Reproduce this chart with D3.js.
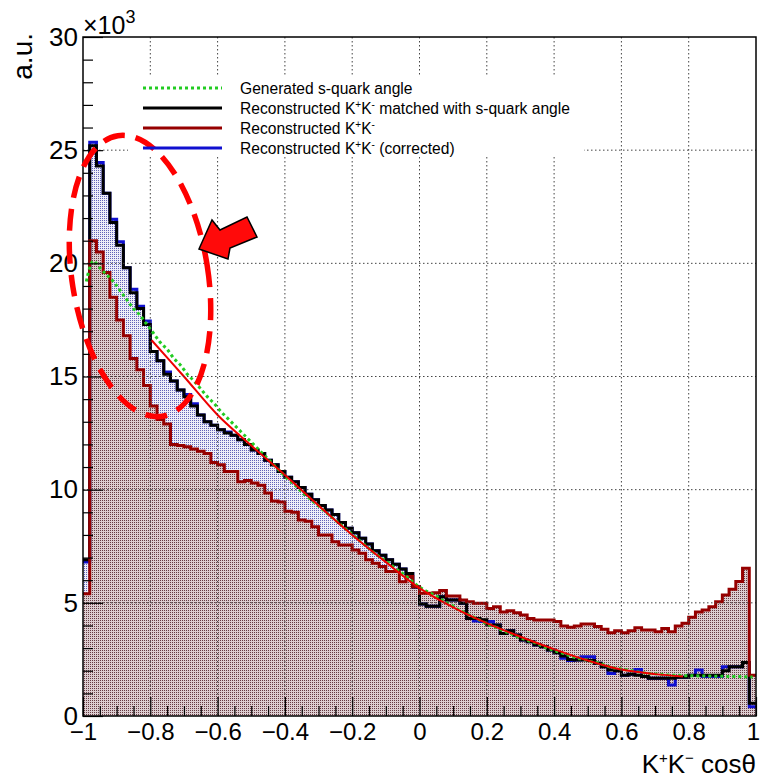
<!DOCTYPE html>
<html><head><meta charset="utf-8">
<script src="https://cdn.jsdelivr.net/npm/d3@7"></script>
<style>
html,body{margin:0;padding:0;background:#fff;}
svg{display:block;}
text{font-family:"Liberation Sans",Arial,Helvetica,sans-serif;}
</style></head>
<body>
<svg id="c" width="761" height="778"></svg>
<script>
// ---- data (values in units of 10^3) ----
const binLow = -1, binWidth = 0.02;
const generated = [19.2,20.1,19.8,19.5,19.2,18.8,18.4,18.0,17.7,17.3,
 16.9,16.5,16.2,15.8,15.5,15.1,14.8,14.45,14.1,13.8,
 13.45,13.15,12.85,12.55,12.25,11.95,11.65,11.35,11.05,10.75,
 10.45,10.2,9.9,9.65,9.4,9.15,8.9,8.65,8.4,8.15,
 7.9,7.65,7.4,7.15,6.95,6.75,6.5,6.3,6.05,5.8,
 5.6,5.45,5.3,5.1,4.95,4.75,4.6,4.45,4.3,4.15,
 4.0,3.9,3.75,3.65,3.5,3.4,3.3,3.2,3.05,2.95,
 2.85,2.75,2.65,2.55,2.5,2.4,2.35,2.25,2.15,2.1,
 2.05,2.0,1.95,1.9,1.87,1.85,1.83,1.8,1.8,1.78,
 1.78,1.77,1.77,1.76,1.76,1.75,1.75,1.74,1.73,1.72];
const matched = [6.9,25.2,24.3,23.1,21.8,20.8,19.8,18.7,18.0,17.3,
 16.1,15.7,15.1,14.8,14.4,14.1,13.7,13.3,13.0,12.85,
 12.65,12.5,12.4,12.2,12.0,11.75,11.6,11.3,11.1,10.8,
 10.55,10.35,10.1,9.8,9.55,9.3,9.1,8.9,8.55,8.3,
 8.1,7.85,7.6,7.3,7.1,6.9,6.7,6.5,6.3,5.7,
 4.95,4.85,4.85,5.27,5.13,5.13,4.98,4.31,4.31,4.25,
 4.02,4.02,3.65,3.77,3.58,3.36,3.28,3.14,3.06,2.92,
 2.8,2.65,2.5,2.47,2.47,2.45,2.33,2.18,2.03,2.0,
 1.8,1.85,1.8,1.74,1.67,1.67,1.67,1.67,1.71,1.71,
 1.8,1.8,1.8,1.8,1.8,2.0,2.18,2.18,2.36,0.56];
const reco = [5.4,21.0,20.5,19.6,18.5,17.5,16.8,15.8,15.3,14.6,
 13.7,13.1,12.9,12.0,11.95,11.9,11.8,11.7,11.6,11.2,
 11.1,10.8,10.8,10.35,10.4,10.3,10.2,9.85,9.5,9.45,
 9.05,9.0,8.66,8.6,8.36,8.0,8.0,7.7,7.56,7.56,
 7.33,7.19,6.9,6.75,6.6,6.38,6.38,5.93,6.16,5.71,
 5.42,5.42,5.45,5.54,5.3,5.3,5.13,5.05,4.98,4.98,
 4.75,4.83,4.6,4.65,4.56,4.46,4.31,4.24,4.24,4.24,
 4.17,3.98,3.92,3.98,4.07,4.07,3.95,3.83,3.68,3.77,
 3.68,3.77,3.9,3.8,3.8,3.72,3.87,3.72,3.98,4.1,
 4.36,4.6,4.68,4.83,5.05,5.35,5.6,5.94,6.53,1.8];
const corrected = [6.8,25.35,24.45,23.1,21.95,20.95,19.8,18.85,18.1,17.45,
 16.1,15.7,15.2,14.8,14.4,14.2,13.8,13.3,13.0,12.85,
 12.65,12.55,12.4,12.2,12.0,11.75,11.6,11.3,11.1,10.8,
 10.55,10.35,10.1,9.8,9.55,9.3,9.1,8.9,8.55,8.3,
 8.1,7.85,7.6,7.3,7.1,6.9,6.7,6.5,6.3,5.7,
 4.95,4.85,4.85,5.27,5.13,5.13,4.98,4.31,4.2,4.17,
 4.17,4.02,3.65,3.77,3.58,3.36,3.28,3.14,3.06,2.92,
 2.8,2.55,2.45,2.47,2.62,2.62,2.33,2.18,1.88,2.0,
 1.8,1.85,2.06,1.74,1.67,1.67,1.67,1.37,1.71,1.71,
 1.8,2.03,1.74,1.74,1.74,2.18,2.18,2.18,2.36,0.41];
const fitX = [-0.796,-0.7,-0.6,-0.5,-0.4,-0.3,-0.2,-0.1,0.0,0.1,0.2,0.3,0.4,0.5,0.6,0.7,0.783];
const fitY = [16.6,15.0,13.3,11.95,10.65,9.3,8.0,6.8,5.65,4.8,4.1,3.5,2.95,2.45,2.05,1.85,1.75];
const xTickMajor = [-1,-0.8,-0.6,-0.4,-0.2,0,0.2,0.4,0.6,0.8,1];
const yTickMajor = [0,5,10,15,20,25,30];
const legendLabels = ["Generated s-quark angle","matched with s-quark angle","",""," (corrected)"];

// ---- layout ----
const svg = d3.select("#c");
const L=83, T=37, R=756, B=716;
const x = d3.scaleLinear().domain([-1,1]).range([L,R]);
const y = d3.scaleLinear().domain([0,30]).range([B,T]);
const edges = d3.range(matched.length).map(i => binLow + i*binWidth);
const centers = edges.map(e => e + binWidth/2);

const defs = svg.append("defs");
defs.append("clipPath").attr("id","frame").append("rect")
  .attr("x",L).attr("y",T).attr("width",R-L).attr("height",B-T);
function pat(id,bg,dot){
  const p = defs.append("pattern").attr("id",id).attr("patternUnits","userSpaceOnUse")
    .attr("width",2).attr("height",2);
  p.append("rect").attr("width",2).attr("height",2).attr("fill",bg);
  p.append("rect").attr("width",1).attr("height",1).attr("fill",dot);
}
pat("redPat","#dccdd0","#663a42");
pat("bluePat","#eeeef8","#6262b8");

const g = svg.append("g").attr("clip-path","url(#frame)");

function stepPts(vals){
  const pts = vals.map((v,i)=>[edges[i],v]);
  pts.push([1, vals[vals.length-1]]);
  return pts;
}
const stepLine = d3.line().x(d=>x(d[0])).y(d=>y(d[1])).curve(d3.curveStepAfter);
const stepArea = d3.area().x(d=>x(d[0])).y0(y(0)).y1(d=>y(d[1])).curve(d3.curveStepAfter);

g.append("path").attr("d",stepArea(stepPts(corrected))).attr("fill","url(#bluePat)");
g.append("path").attr("d",stepArea(stepPts(reco))).attr("fill","url(#redPat)");

// grid
const grid = svg.append("g").attr("stroke","#444").attr("stroke-width",1).attr("stroke-dasharray","1.5,2.5");
xTickMajor.slice(1,-1).forEach(v=>grid.append("line").attr("x1",x(v)).attr("x2",x(v)).attr("y1",T).attr("y2",B));
yTickMajor.slice(1,-1).forEach(v=>grid.append("line").attr("x1",L).attr("x2",R).attr("y1",y(v)).attr("y2",y(v)));

// legend background
svg.append("rect").attr("x",128).attr("y",77).attr("width",456).attr("height",80).attr("fill","#fff");

// lines
g.append("path").attr("d",stepLine(stepPts(corrected))).attr("fill","none").attr("stroke","#1010d0").attr("stroke-width",3);
g.append("path").attr("d",stepLine(stepPts(matched))).attr("fill","none").attr("stroke","#000").attr("stroke-width",3);
g.append("path").attr("d",stepLine(stepPts(reco))).attr("fill","none").attr("stroke","#960000").attr("stroke-width",3);
const smooth = d3.line().x(d=>x(d[0])).y(d=>y(d[1])).curve(d3.curveCatmullRom);
g.append("path").attr("d",smooth(generated.map((v,i)=>[centers[i],v])))
  .attr("fill","none").attr("stroke","#22cc22").attr("stroke-width",3).attr("stroke-dasharray","3,3");
g.append("path").attr("d",smooth(fitX.map((v,i)=>[v,fitY[i]])))
  .attr("fill","none").attr("stroke","#ee0000").attr("stroke-width",2);

// axes
const font = '"Liberation Sans",Arial,sans-serif';
const yMinor = d3.range(0,31,1).filter(v=>v%5!==0);
const xMinor = d3.range(-1,1.0001,0.05).filter(v=>Math.abs(Math.round(v*10)/10 - v) > 1e-6 || Math.round(v*10)%2!==0);
function styleAxis(sel){ sel.select(".domain").remove(); sel.selectAll("line").attr("stroke","#000").attr("stroke-width",1.2); }
svg.append("g").attr("transform",`translate(${L},0)`)
  .call(d3.axisLeft(y).tickValues(yMinor).tickSize(-10).tickFormat("")).call(styleAxis);
svg.append("g").attr("transform",`translate(${L},0)`)
  .call(d3.axisLeft(y).tickValues(yTickMajor).tickSize(-20).tickPadding(5).tickFormat(d=>d)).call(styleAxis)
  .selectAll("text").attr("font-size",26).attr("font-family",font).attr("fill","#000");
svg.append("g").attr("transform",`translate(0,${B})`)
  .call(d3.axisBottom(x).tickValues(xMinor).tickSize(-10).tickFormat("")).call(styleAxis);
const xAx = svg.append("g").attr("transform",`translate(0,${B})`)
  .call(d3.axisBottom(x).tickValues(xTickMajor).tickSize(-19).tickPadding(7)
    .tickFormat(d=> d===0 ? "0" : (d<0 ? "\u2212"+String(Math.abs(+d.toFixed(1))) : String(+d.toFixed(1))))).call(styleAxis);
xAx.selectAll("text").attr("font-size",24).attr("font-family",font).attr("fill","#000");
xAx.selectAll("text").filter(d=>d===1).attr("dx",-3);

// frame
svg.append("rect").attr("x",L).attr("y",T).attr("width",R-L).attr("height",B-T)
  .attr("fill","none").attr("stroke","#000").attr("stroke-width",1.5);

// axis titles
svg.append("text").attr("transform","translate(32,33) rotate(-90)").attr("text-anchor","end")
  .attr("font-size",28).text("a.u.");
const xe = svg.append("text").attr("x",83).attr("y",34).attr("font-size",25);
xe.append("tspan").text("\u00d710");
xe.append("tspan").attr("dy",-11).attr("font-size",18).text("3");
const xt = svg.append("text").attr("x",756).attr("y",773).attr("text-anchor","end").attr("font-size",26);
xt.append("tspan").text("K");
xt.append("tspan").attr("dy",-10).attr("font-size",15).text("+");
xt.append("tspan").attr("dy",10).text("K");
xt.append("tspan").attr("dy",-10).attr("font-size",15).text("\u2212");
xt.append("tspan").attr("dy",10).text(" cos\u03b8");

// annotation: dashed ellipse and arrow
svg.append("ellipse").attr("cx",140).attr("cy",276).attr("rx",68).attr("ry",142)
  .attr("transform","rotate(-9,140,276)").attr("fill","none").attr("stroke","#ff0000")
  .attr("stroke-width",5.5).attr("stroke-dasharray","22,11");
svg.append("polygon").attr("points","199,249 212,220 220,230 247,217 257,237 230,248 228,259")
  .attr("fill","#ff0a0a").attr("stroke","#000").attr("stroke-width",1.5).attr("stroke-linejoin","miter");

// legend
const lg = svg.append("g");
const rowsY = [88,108,128,148];
const styles = [
  {c:"#22cc22",dash:"3,3"},{c:"#000",dash:null},{c:"#960000",dash:null},{c:"#1010d0",dash:null}
];
styles.forEach((s,i)=>{
  const l = lg.append("line").attr("x1",143).attr("x2",222).attr("y1",rowsY[i]).attr("y2",rowsY[i])
    .attr("stroke",s.c).attr("stroke-width",3);
  if(s.dash) l.attr("stroke-dasharray",s.dash);
});
const FS = 15.6;
lg.append("text").attr("x",240).attr("y",rowsY[0]+5.5).attr("font-size",FS).text(legendLabels[0]);
function kkRow(i, suffix){
  const t = lg.append("text").attr("x",240).attr("y",rowsY[i]+5.5).attr("font-size",FS);
  t.append("tspan").text("Reconstructed K");
  t.append("tspan").attr("dy",-6).attr("font-size",10).text("+");
  t.append("tspan").attr("dy",6).text("K");
  t.append("tspan").attr("dy",-6).attr("font-size",10).text("-");
  t.append("tspan").attr("dy",6).text(suffix ? " " + suffix.trim() : "");
}
kkRow(1, " matched with s-quark angle");
kkRow(2, "");
kkRow(3, legendLabels[4]);
</script>
</body></html>
